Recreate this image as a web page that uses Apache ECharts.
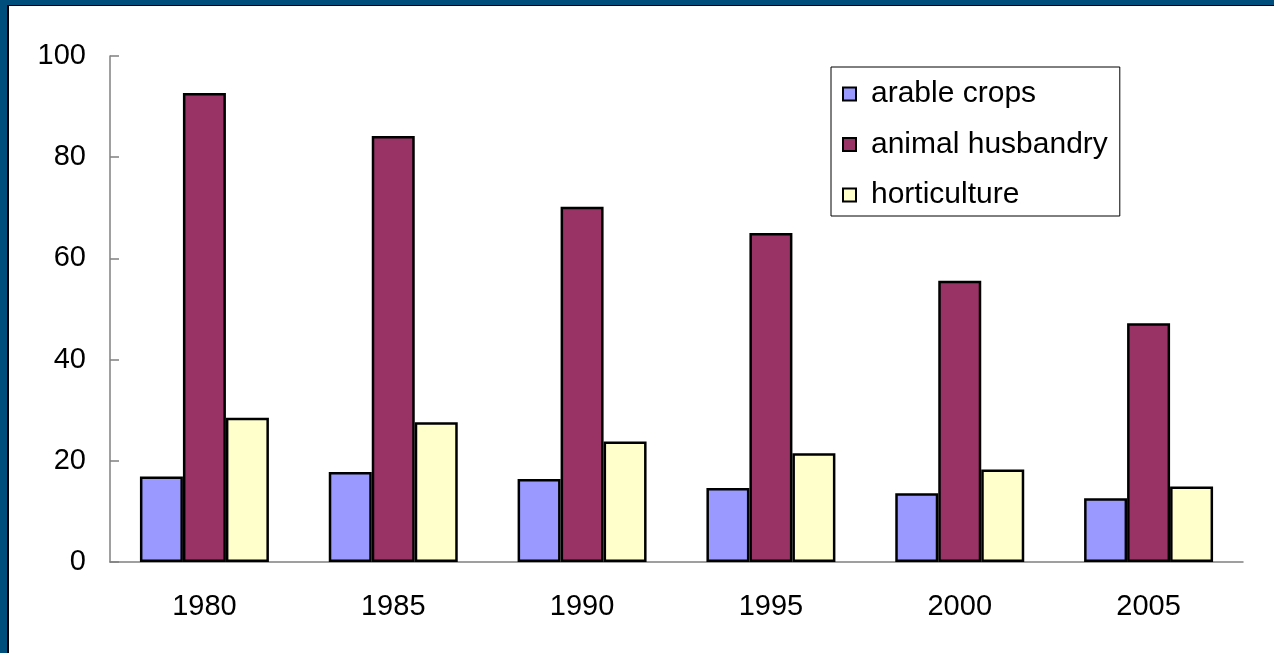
<!DOCTYPE html>
<html>
<head>
<meta charset="utf-8">
<script src="https://cdn.jsdelivr.net/npm/echarts@6/dist/echarts.min.js"></script>
<style>
  html, body { margin: 0; padding: 0; width: 1274px; height: 653px; overflow: hidden; background: #ffffff; }
  #frame { position: absolute; left: 0; top: 0; width: 1274px; height: 653px; background: #004e7c; }
  #inner { position: absolute; left: 7px; top: 5px; right: 0; bottom: 0; background: #ffffff; border-left: 2px solid #000; border-top: 1px solid #000; }
  #chart { position: absolute; left: 0; top: 0; width: 1274px; height: 653px; }
</style>
</head>
<body>
<div id="frame"><div id="inner"></div></div>
<div id="chart"></div>
<script>
const categories = ['1980', '1985', '1990', '1995', '2000', '2005'];
const arableCrops = [16.9, 17.8, 16.4, 14.6, 13.6, 12.6];
const animalHusbandry = [92.7, 84.2, 70.2, 65.0, 55.6, 47.2];
const horticulture = [28.5, 27.6, 23.8, 21.5, 18.3, 14.9];
const seriesNames = ['arable crops', 'animal husbandry', 'horticulture'];
const yTicks = [0, 20, 40, 60, 80, 100];

const font = "'Liberation Sans', Arial, sans-serif";
const chart = echarts.init(document.getElementById('chart'), null, { renderer: 'canvas' });

function bar(name, data, color) {
  return {
    name: name,
    type: 'bar',
    data: data,
    barGap: '0%',
    barCategoryGap: '31.7%',
    itemStyle: { color: color, borderColor: '#000000', borderWidth: 2.5 },
    emphasis: { disabled: true },
    animation: false
  };
}

chart.setOption({
  backgroundColor: 'transparent',
  animation: false,
  textStyle: { fontFamily: font },
  grid: { left: 110, top: 56, right: 31, bottom: 91, containLabel: false },
  legend: {
    orient: 'vertical',
    left: 831,
    top: 67,
    padding: [12, 12, 6, 11],
    itemGap: 20.5,
    itemWidth: 13,
    itemHeight: 13,
    borderColor: '#000000',
    borderWidth: 1,
    backgroundColor: '#ffffff',
    icon: 'rect',
    itemStyle: { borderColor: '#000000', borderWidth: 2 },
    textStyle: { fontFamily: font, fontSize: 30, color: '#000000', lineHeight: 29, padding: [0, 0, 0, 10] },
    selectedMode: false,
    data: seriesNames
  },
  xAxis: {
    type: 'category',
    data: categories,
    axisLine: { lineStyle: { color: '#808080', width: 1.5 } },
    axisTick: { show: false },
    axisLabel: { color: '#000000', fontSize: 29, fontFamily: font, margin: 30 },
    splitLine: { show: false }
  },
  yAxis: {
    type: 'value',
    min: yTicks[0],
    max: yTicks[yTicks.length - 1],
    interval: yTicks[1] - yTicks[0],
    axisLine: { show: true, lineStyle: { color: '#808080', width: 1.5 } },
    axisTick: { show: true, inside: true, length: 9, lineStyle: { color: '#808080', width: 1.5 } },
    axisLabel: { color: '#000000', fontSize: 29, fontFamily: font, margin: 24 },
    splitLine: { show: false }
  },
  series: [
    bar(seriesNames[0], arableCrops, '#9999ff'),
    bar(seriesNames[1], animalHusbandry, '#993366'),
    bar(seriesNames[2], horticulture, '#ffffcc')
  ]
});
</script>
</body>
</html>
